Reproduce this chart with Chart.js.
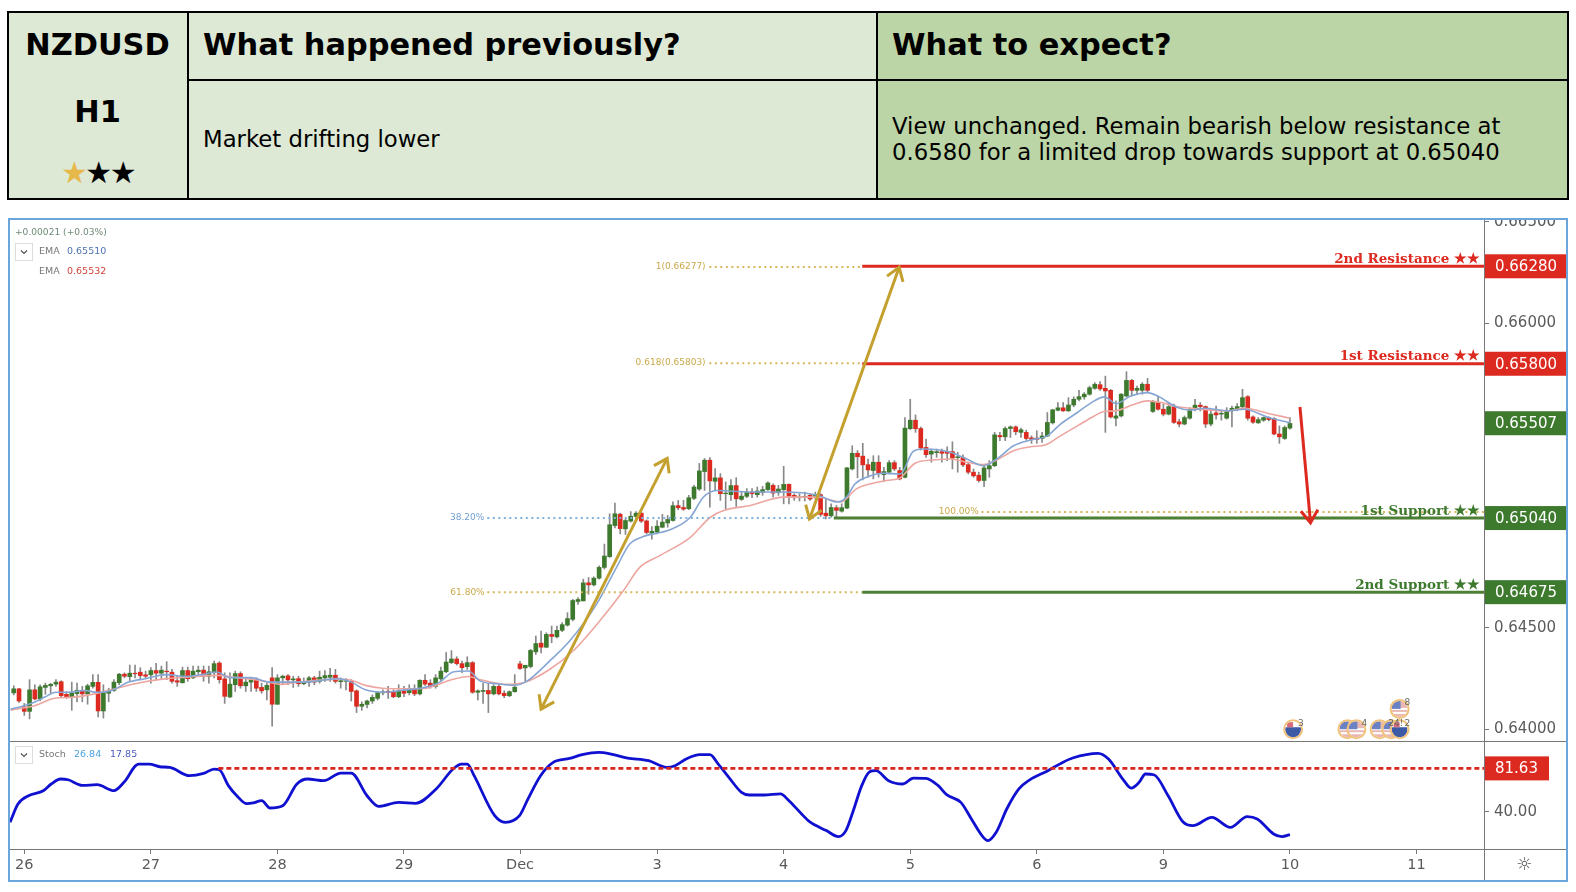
<!DOCTYPE html>
<html>
<head>
<meta charset="utf-8">
<title>NZDUSD H1</title>
<script src="https://cdn.jsdelivr.net/npm/chart.js@4/dist/chart.umd.min.js"></script>
<style>
    html, body { margin: 0; padding: 0; background: #fff; }
    body { width: 1576px; height: 892px; position: relative; overflow: hidden; font-family: "DejaVu Sans", sans-serif; color: #000; }
    .cell { position: absolute; box-sizing: border-box; }
    .txt { position: absolute; white-space: nowrap; }
    .head { font-weight: bold; font-size: 30.4px; line-height: 36px; }
    .body { font-size: 22.75px; line-height: 26px; }
    #frame { position: absolute; left: 8px; top: 218px; width: 1560px; height: 664px; box-sizing: border-box; border: 2px solid #6aa6dc; }
    #chart { position: absolute; left: 0; top: 0; }
</style>
</head>
<body>
<div class="cell" style="left:7px;top:11px;width:180px;height:189px;background:#dde8d5;border:2px solid #000;border-right:none;"></div>
<div class="cell" style="left:187px;top:11px;width:689px;height:189px;background:#dde8d5;border:2px solid #000;border-right:none;"></div>
<div class="cell" style="left:876px;top:11px;width:693px;height:189px;background:#bcd5a6;border:2px solid #000;"></div>
<div class="cell" style="left:187px;top:79px;width:1382px;height:2px;background:#000;"></div>
<div class="txt head" style="left:8px;width:179px;top:27px;text-align:center;">NZDUSD</div>
<div class="txt head" style="left:8px;width:179px;top:94px;text-align:center;">H1</div>
<div class="txt" style="left:8px;width:179px;top:155px;text-align:center;font-size:30px;line-height:36px;letter-spacing:-2.5px;"><span style="color:#e6b749;">★</span>★★</div>
<div class="txt head" style="left:203px;top:27px;">What happened previously?</div>
<div class="txt head" style="left:892px;top:27px;">What to expect?</div>
<div class="txt body" style="left:203px;top:126px;">Market drifting lower</div>
<div class="txt body" style="left:892px;top:113px;">View unchanged. Remain bearish below resistance at<br>0.6580 for a limited drop towards support at 0.65040</div>

<div id="frame"><canvas id="chart" width="1556" height="660"></canvas></div>

<script>
// prices are in points above 0.64000 (1 point = 0.00001)
const opens = [179,199,110,88,194,149,206,214,222,234,172,157,175,191,174,211,231,90,177,191,229,271,259,276,281,268,268,289,276,286,281,239,229,289,253,283,291,261,278,326,248,159,219,274,214,232,246,206,194,253,123,253,263,243,249,224,232,253,236,253,256,266,234,236,236,189,113,122,139,152,179,187,184,160,189,180,197,174,241,227,211,248,283,328,346,323,308,328,182,186,191,174,211,177,165,185,
    322,302,309,381,424,404,467,455,487,513,541,629,632,721,711,744,797,850,1003,1059,987,1025,1048,1064,1026,965,970,995,1016,1028,1101,1092,1086,1137,1183,1269,1325,1221,1238,1160,1155,1200,1132,1147,1168,1155,1167,1180,1201,1165,1180,1206,1152,1140,1144,1152,1148,1155,1064,1051,1091,1074,
    1089,1282,1359,1345,1303,1274,1315,1254,1266,1313,1274,1241,1480,1522,1481,1388,1355,1362,1367,1369,1367,1338,1339,1303,1266,1251,1225,1282,1298,1447,1440,1481,1489,1462,1462,1435,1434,1432,1444,1509,1571,1583,1568,1597,1625,1637,1650,1679,1697,1679,1669,1532,1543,1641,1718,1669,1669,1699,1565,1609,1576,1552,1589,1514,1503,1532,1574,1596,1589,1503,1558,1552,1532,1568,1579,1588,1638,1538,1509,1522,1534,1530,1454,1432,1483];
const highs = [214,202,127,244,219,219,227,226,244,239,185,232,227,211,222,269,269,219,202,244,275,278,316,316,303,286,303,325,311,333,295,261,306,306,311,311,311,311,336,333,278,278,286,283,253,253,253,227,227,303,269,266,269,261,261,253,261,261,286,289,300,295,253,249,244,194,135,144,169,186,194,211,194,219,211,219,219,244,269,244,269,306,378,387,357,336,357,333,194,227,227,219,222,189,189,269,
    335,315,393,459,483,475,508,508,525,574,640,648,739,747,751,805,912,1061,1114,1064,1036,1072,1072,1069,1031,998,1028,1058,1053,1120,1127,1127,1152,1201,1309,1333,1338,1284,1259,1218,1229,1239,1168,1185,1185,1193,1196,1218,1209,1201,1295,1209,1160,1160,1168,1160,1168,1160,1135,1110,1102,1110,
    1290,1396,1372,1408,1331,1347,1347,1290,1323,1323,1290,1535,1625,1548,1489,1429,1380,1380,1380,1391,1416,1364,1352,1315,1282,1266,1298,1323,1462,1462,1489,1494,1494,1483,1473,1445,1470,1462,1560,1576,1609,1609,1633,1637,1669,1658,1690,1707,1712,1739,1674,1617,1653,1761,1723,1690,1707,1728,1620,1641,1601,1604,1601,1527,1543,1584,1625,1609,1592,1568,1592,1571,1584,1592,1604,1674,1643,1543,1535,1538,1538,1535,1494,1494,1535];
const lows = [169,132,68,51,144,139,172,177,211,160,152,93,135,135,123,202,60,55,135,186,219,253,236,253,244,249,227,244,244,244,227,211,227,236,249,269,236,227,253,227,127,155,186,202,186,186,186,177,144,15,122,219,219,206,211,219,211,219,227,236,236,227,202,194,139,82,93,105,127,144,169,152,155,155,160,169,165,169,216,202,202,239,278,323,316,278,295,177,144,127,82,169,169,155,160,182,
    294,236,302,368,376,401,426,450,480,508,533,615,632,665,706,739,789,846,992,962,959,1020,1036,1018,962,936,962,992,995,1025,1081,1078,1081,1130,1176,1176,1094,1176,1127,1086,1127,1097,1127,1140,1140,1143,1152,1176,1143,1152,1110,1110,1127,1124,1124,1127,1135,1048,1036,1044,1041,1069,
    1086,1277,1238,1228,1241,1233,1241,1221,1257,1274,1228,1238,1476,1462,1375,1339,1315,1339,1315,1323,1282,1266,1293,1257,1241,1217,1195,1241,1293,1421,1421,1437,1450,1437,1424,1408,1408,1413,1440,1503,1568,1565,1565,1588,1617,1625,1645,1674,1669,1462,1532,1494,1538,1637,1641,1650,1650,1658,1560,1571,1543,1548,1506,1489,1499,1527,1568,1568,1486,1494,1527,1522,1527,1489,1568,1584,1522,1506,1506,1516,1519,1450,1408,1427,1478];
const closes = [199,139,88,194,149,209,216,221,232,165,159,179,192,174,214,231,90,180,192,232,271,261,276,273,264,261,289,276,291,283,236,232,289,249,286,291,261,283,323,244,162,222,274,214,232,244,202,189,216,123,253,261,243,248,224,232,253,232,256,264,266,236,239,239,186,113,123,139,157,180,184,180,160,189,177,197,174,241,222,211,253,286,331,346,323,303,328,182,189,191,174,211,174,165,185,207,
    299,315,388,422,404,467,457,487,515,545,634,639,721,711,744,797,853,1007,1061,988,1028,1049,1064,1025,969,975,1000,1020,1033,1101,1091,1084,1140,1193,1272,1325,1223,1238,1160,1163,1200,1135,1148,1168,1160,1173,1180,1213,1163,1183,1206,1148,1140,1144,1147,1134,1155,1058,1051,1092,1078,1091,
    1287,1359,1342,1302,1277,1315,1261,1269,1313,1282,1233,1483,1522,1480,1385,1352,1369,1367,1359,1359,1336,1342,1302,1266,1248,1225,1287,1298,1450,1440,1481,1489,1465,1475,1432,1427,1427,1444,1511,1573,1583,1568,1597,1625,1638,1650,1682,1699,1676,1666,1538,1543,1650,1718,1669,1679,1699,1669,1614,1576,1552,1589,1511,1503,1535,1574,1596,1589,1503,1552,1548,1556,1568,1581,1589,1633,1532,1512,1525,1535,1525,1454,1440,1486,1506];
const firstBar = -2; // first candle sits two bars left of the "26" tick

// sampled EMA lines (bar index, points)
const emaFastX = [-2.6,-0.7,1.9,3.8,6,8.3,11.5,13.7,16.6,19.8,23,26.9,30.7,33.9,36.5,39,42.9,46.7,49.9,53,59.5,62,64.7,67.9,72.4,75.6,78.8,81.3,84.2,86.5,89.7,92.9,95.1,99.6,103.4,108.5,112.3,114.8,117.4,122.4,126.3,128.8,131.3,137.7,144,150.4,154.2,155.9,157.5,159.7,162.9,166.1,168.6,170.6,175.6,178.7,181.9,184.4,187.6,190.8,194,196.5,199.7,202.9,204.8,207,209.8,213,214.9,218.7,221,223.8,228.3,231.4,235.9,240];
const emaFastY = [99,111,133,157,182,182,191,182,191,232,249,269,260,270,282,254,254,232,232,232,249,232,194,182,194,204,232,282,287,237,224,216,233,335,434,615,797,912,949,982,1044,1144,1176,1168,1168,1152,1119,1143,1208,1241,1261,1257,1369,1380,1364,1331,1298,1331,1396,1424,1445,1503,1560,1617,1637,1604,1641,1658,1641,1584,1571,1581,1568,1576,1535,1510];
const emaSlowX = [-2.6,1.9,6,8.9,13.4,17.2,21,26.9,31.3,36.5,40.3,45.4,48.6,51.9,59.5,62,64.7,67.9,72.4,76.2,80.7,84.2,86.5,91.6,95.1,99.6,104,109.1,113.6,116.7,120.5,126.3,130.1,132.6,137.7,144,150.4,154.8,157.8,160.3,163.5,166.1,168.9,172.4,175.6,178.7,181.9,184.4,187.6,190.8,193.7,196.5,199.7,202.9,204.8,207,210.5,213,215.6,218.7,223.2,228.3,231.4,235.9,240];
const emaSlowY = [94,116,154,157,174,199,224,249,257,265,254,237,221,232,246,241,216,202,199,202,241,260,244,221,233,294,384,533,682,797,855,945,1044,1077,1102,1143,1143,1119,1184,1208,1225,1238,1310,1326,1331,1315,1303,1326,1372,1391,1401,1445,1494,1543,1565,1568,1601,1617,1609,1588,1576,1568,1581,1555,1532];

// sampled stochastic line
const stochX = [-2.7,-1.2,0.8,3.6,5.1,6.9,8.3,11,13.8,17,18.9,21.7,23.7,25.7,27.6,31.3,34,36,37,38.7,40.3,42.2,43.4,45,46.6,49,51.7,53.7,56.8,60,62,65,67.2,71,74.2,78.1,81.3,82.9,84,85.3,89.2,91.2,93.9,95.5,97.9,100.3,103.4,105.8,108.9,111.3,114.4,118.4,121.8,123.4,125.7,128.1,130,131.6,133.6,136,137.5,140.3,143.4,145,147.4,148.9,152.1,154.4,155.8,157.2,158.8,160.3,161.5,163.9,166.6,168.6,171,173.3,174.9,177.6,179.6,181.6,182.7,184.3,186.3,188.6,190.6,194.1,196.9,198.8,203.6,205.6,208.3,209.9,211.4,212.6,214.2,216.9,219.7,221.6,225.2,228.7,231.9,233.8,236.9,238.5,240];
const stochY = [29.7,47.3,55.3,60.1,66.6,71.4,70.7,65.3,65.9,60.2,68.2,85.8,85.8,83.2,82.6,74.6,76.8,81,80.3,65,55.3,47.6,48.3,50.5,43.5,45.7,66.6,71.4,69.8,77.1,77.1,55.3,45.1,48.9,48,61.8,81,85.8,85.8,74.6,36.1,29.7,36.1,52.1,74.6,87.4,91.2,94.8,97,95.4,91.6,89,82.6,84.2,91.2,94.8,94.8,85.8,73,58.6,56,56,57,50.5,37.7,30.3,21.7,15.9,21.7,40.9,65,78.4,79.4,69.8,66.6,72.3,72,65,56.3,48.9,32.9,16.9,12.1,20.1,42.5,61.8,70.4,79.4,87.4,91.6,96,90.6,71.4,62.7,68.2,76.2,75.5,55.3,30.3,26.5,34.5,24.9,35.2,32.9,18.5,15.9,17.85];
const stochLevel = 81.63;
const stochLevelFrom = 36.8;

// horizontal levels
const resistance2 = 2280, resistance1 = 1800, support1 = 1040, support2 = 675, lastPrice = 1507;
const resistanceFrom = 158.9, support1From = 153.5, axisEnd = 276.8;
const fibGold = [[2277, 129.9, 158.9], [1803, 129.9, 158.9], [675, 87.8, 158.9], [1070, 181.5, axisEnd]];
const fibBlue = [1040, 87.8, 153.5];
const fibLabels = [['1(0.66277)', 129.2, 2277], ['0.618(0.65803)', 129.2, 1803], ['61.80%', 87.3, 675], ['100.00%', 181, 1070]];

// drawn arrows: x1, y1, x2, y2
const goldArrows = [[98, 99, 121.9, 1334], [148.9, 1035, 165.9, 2275]];
const redArrow = [241.9, 1587, 243.9, 1017];

// economic event markers: bar index, points, flag, count
const eventMarks = [[240.6, 0, 'nz', '3'], [250.9, 0, 'us', ''], [252.6, 0, 'us', '4'], [257, 0, 'us', ''], [259.2, 0, 'us', '24!'], [260.8, 0, 'nz', '2'], [260.8, 100, 'us', '8']];

// axes
const tickBars = [0, 24, 48, 72, 94, 120, 144, 168, 192, 216, 240, 264];
const tickLabels = ['26', '27', '28', '29', 'Dec', '3', '4', '5', '6', '9', '10', '11'];
const priceTicks = [0, 500, 1000, 1500, 2000, 2500];
const stochTicks = [40];

const GREEN = '#3e7a2e', RED = '#dc2a20', GOLD = '#c4a02e', AXIS_TXT = '#5a5a5a';
const SANS = '"DejaVu Sans", sans-serif', SERIF = '"DejaVu Serif", serif';

const barX = opens.map(function (_, k) { return k + firstBar; });
const up = opens.map(function (o, k) { return closes[k] >= o; });

function seg(y, from, to) { return [{ x: from, y: y }, { x: to, y: y }]; }
function pairs(xs, ys) { return xs.map(function (x, k) { return { x: x, y: ys[k] }; }); }
function levelLine(y, from, color) {
    return { type: 'line', data: seg(y, from, axisEnd), yAxisID: 'y', borderColor: color, borderWidth: 3, pointRadius: 0, order: 1 };
}
function dotLine(y, from, to, color) {
    return { type: 'line', data: seg(y, from, to), yAxisID: 'y', borderColor: color, borderWidth: 2, borderDash: [2, 3.5], pointRadius: 0, order: 2 };
}
// no room reserved for half a tick label, the panes fill the canvas
function noPad(s) { s.paddingTop = 0; s.paddingBottom = 0; s.paddingLeft = 0; s.paddingRight = 0; }

const overlayPlugin = {
    id: 'overlay',
    afterDatasetsDraw: function (chart) {
        const c = chart.ctx, xs = chart.scales.x, ys = chart.scales.y, st = chart.scales.stoch;
        const area = chart.chartArea;
        const px = function (v) { return xs.getPixelForValue(v); };
        const py = function (v) { return ys.getPixelForValue(v); };
        c.save();

        // arrows
        function arrow(a, color, both) {
            const x1 = px(a[0]), y1 = py(a[1]), x2 = px(a[2]), y2 = py(a[3]);
            c.strokeStyle = color; c.lineWidth = 3; c.lineJoin = 'miter';
            c.beginPath(); c.moveTo(x1, y1); c.lineTo(x2, y2); c.stroke();
            function head(fx, fy, tx, ty) {
                const ang = Math.atan2(ty - fy, tx - fx), len = 15;
                c.beginPath();
                c.moveTo(tx - len * Math.cos(ang - 0.6), ty - len * Math.sin(ang - 0.6));
                c.lineTo(tx, ty);
                c.lineTo(tx - len * Math.cos(ang + 0.6), ty - len * Math.sin(ang + 0.6));
                c.stroke();
            }
            head(x1, y1, x2, y2);
            if (both) head(x2, y2, x1, y1);
        }
        goldArrows.forEach(function (a) { arrow(a, GOLD, true); });
        arrow(redArrow, RED, false);

        // fib labels
        c.textBaseline = 'middle';
        c.textAlign = 'right';
        c.fillStyle = '#c9a94a';
        c.font = '9px ' + SANS;
        fibLabels.forEach(function (l) { c.fillText(l[0], px(l[1]), py(l[2])); });
        c.fillStyle = '#6f9fd0';
        c.fillText('38.20%', px(fibBlue[1]) - 3, py(fibBlue[0]));

        // level names
        c.font = 'bold 13.5px ' + SERIF;
        c.fillStyle = RED;
        c.fillText('2nd Resistance ★★', area.right - 4, py(resistance2) - 7);
        c.fillText('1st Resistance ★★', area.right - 4, py(resistance1) - 7);
        c.fillStyle = GREEN;
        c.fillText('1st Support ★★', area.right - 4, py(support1) - 7);
        c.fillText('2nd Support ★★', area.right - 4, py(support2) - 7);

        // event markers, counts go on last so the icons do not hide them
        eventMarks.forEach(function (m) {
            const x = px(m[0]), y = py(m[1]), r = 8;
            c.save();
            c.beginPath(); c.arc(x, y, r, 0, Math.PI * 2); c.closePath();
            c.fillStyle = '#fff'; c.fill();
            c.clip();
            if (m[2] === 'us') {
                c.fillStyle = '#eab8b4'; c.fillRect(x - r, y - r, 2 * r, 2 * r);
                c.fillStyle = '#fff'; c.fillRect(x - r, y - 1, 2 * r, 2); c.fillRect(x - r, y + 3, 2 * r, 2);
                c.fillStyle = '#6a82c4'; c.fillRect(x - r, y - r, r + 1, r);
            } else {
                c.fillStyle = '#3d5aa6'; c.fillRect(x - r, y - 2, 2 * r, r + 2);
                c.fillStyle = '#d96a7a'; c.fillRect(x - r + 2, y - r + 1, 6, 5);
            }
            c.restore();
            c.strokeStyle = '#f0c27a'; c.lineWidth = 2;
            c.beginPath(); c.arc(x, y, r + 1, 0, Math.PI * 2); c.stroke();
        });
        c.fillStyle = '#666'; c.font = '9px ' + SANS; c.textAlign = 'left';
        eventMarks.forEach(function (m) {
            if (m[3]) c.fillText(m[3], px(m[0]) + 5 - (m[3].length > 1 ? 8 : 0), py(m[1]) - 6);
        });

        // axis frame pieces
        c.strokeStyle = '#777';
        c.lineWidth = 1;
        c.beginPath();
        c.moveTo(area.right + 0.5, 0); c.lineTo(area.right + 0.5, chart.height);
        c.moveTo(0, ys.bottom + 0.5); c.lineTo(chart.width, ys.bottom + 0.5);
        c.moveTo(0, st.bottom + 0.5); c.lineTo(chart.width, st.bottom + 0.5);
        c.stroke();

        // price tags on the axis
        function tag(y, text, color, w) {
            c.fillStyle = color;
            c.fillRect(area.right + 1, y - 12, w, 24);
            c.fillStyle = '#fff';
            c.font = '15px ' + SANS;
            c.textAlign = 'left';
            c.fillText(text, area.right + 11, y + 1);
        }
        tag(py(resistance2), '0.66280', RED, 82);
        tag(py(resistance1), '0.65800', RED, 82);
        tag(py(lastPrice), '0.65507', GREEN, 82);
        tag(py(support1), '0.65040', GREEN, 82);
        tag(py(support2), '0.64675', GREEN, 82);
        tag(st.getPixelForValue(stochLevel), '81.63', RED, 64);

        // settings glyph
        c.fillStyle = AXIS_TXT; c.font = '18px ' + SANS; c.textAlign = 'center';
        c.fillText('☼', area.right + 40, st.bottom + 16);

        // legends
        c.textAlign = 'left';
        c.font = '9.1px ' + SANS;
        c.fillStyle = '#6f8a78'; c.fillText('+0.00021 (+0.03%)', 5, 13);
        c.font = '9.5px ' + SANS;
        function chevron(y) {
            c.strokeStyle = '#ddd'; c.lineWidth = 1;
            c.strokeRect(5.5, y - 8.5, 17, 17);
            c.strokeStyle = '#555'; c.lineWidth = 1.2;
            c.beginPath(); c.moveTo(11, y - 1.5); c.lineTo(14, y + 1.5); c.lineTo(17, y - 1.5); c.stroke();
        }
        chevron(32);
        c.fillStyle = '#777'; c.fillText('EMA', 29, 32); c.fillText('EMA', 29, 52);
        c.fillStyle = '#4d72b0'; c.fillText('0.65510', 57, 32);
        c.fillStyle = '#d0453c'; c.fillText('0.65532', 57, 52);
        const sy = st.top + 14;
        chevron(sy);
        c.fillStyle = '#777'; c.fillText('Stoch', 29, sy);
        c.fillStyle = '#4aa3df'; c.fillText('26.84', 64, sy);
        c.fillStyle = '#4d5bc0'; c.fillText('17.85', 100, sy);
        c.restore();
    }
};

const axisGrid = { display: true, drawOnChartArea: false, drawTicks: true, tickLength: 5, color: '#777', offset: false };

new Chart(document.getElementById('chart'), {
    type: 'bar',
    data: {
        datasets: [
            { type: 'line', data: pairs(stochX, stochY), yAxisID: 'stoch', borderColor: '#1010d0', borderWidth: 2.8, pointRadius: 0, cubicInterpolationMode: 'monotone', order: 1 },
            { type: 'line', data: seg(stochLevel, stochLevelFrom, axisEnd), yAxisID: 'stoch', borderColor: '#d8281e', borderWidth: 2.6, borderDash: [5, 3], pointRadius: 0, order: 0 },
            levelLine(resistance2, resistanceFrom, RED),
            levelLine(resistance1, resistanceFrom, RED),
            levelLine(support1, support1From, '#4d7f35'),
            levelLine(support2, resistanceFrom, '#4d7f35'),
            dotLine(fibGold[0][0], fibGold[0][1], fibGold[0][2], '#d6b75c'),
            dotLine(fibGold[1][0], fibGold[1][1], fibGold[1][2], '#d6b75c'),
            dotLine(fibGold[2][0], fibGold[2][1], fibGold[2][2], '#d6b75c'),
            dotLine(fibGold[3][0], fibGold[3][1], fibGold[3][2], '#d6b75c'),
            dotLine(fibBlue[0], fibBlue[1], fibBlue[2], '#7fb0dc'),
            { type: 'line', data: pairs(emaFastX, emaFastY), yAxisID: 'y', borderColor: '#85a6d4', borderWidth: 1.6, pointRadius: 0, cubicInterpolationMode: 'monotone', order: 3 },
            { type: 'line', data: pairs(emaSlowX, emaSlowY), yAxisID: 'y', borderColor: '#eda6a0', borderWidth: 1.6, pointRadius: 0, cubicInterpolationMode: 'monotone', order: 4 },
            {
                data: barX.map(function (x, k) { return { x: x, y: [opens[k], closes[k]] }; }),
                yAxisID: 'y', grouped: false, barThickness: 4, order: 5,
                backgroundColor: up.map(function (u) { return u ? GREEN : RED; })
            },
            {
                data: barX.map(function (x, k) { return { x: x, y: [lows[k], highs[k]] }; }),
                yAxisID: 'y', grouped: false, barThickness: 1, order: 6,
                backgroundColor: '#888'
            }
        ]
    },
    options: {
        responsive: false,
        animation: false,
        devicePixelRatio: 1,
        layout: { padding: 0 },
        plugins: { legend: { display: false }, tooltip: { enabled: false } },
        scales: {
            x: {
                type: 'linear', offset: false, min: -2.71, max: axisEnd,
                grid: axisGrid,
                border: { display: false },
                afterBuildTicks: function (s) { s.ticks = tickBars.map(function (v) { return { value: v }; }); },
                afterFit: function (s) { s.height = 31; noPad(s); },
                ticks: {
                    autoSkip: false, maxRotation: 0, color: AXIS_TXT, font: { family: SANS, size: 14.5 }, padding: 3,
                    callback: function (v, k) { return tickLabels[k]; }
                }
            },
            y: {
                position: 'right', stack: 'panes', stackWeight: 521, min: -58, max: 2508,
                grid: axisGrid,
                border: { display: false },
                afterBuildTicks: function (s) { s.ticks = priceTicks.map(function (v) { return { value: v }; }); },
                afterFit: function (s) { s.width = 82; noPad(s); },
                ticks: {
                    autoSkip: false, color: AXIS_TXT, font: { family: SANS, size: 15 }, padding: 5,
                    callback: function (v) { return (0.64 + v / 100000).toFixed(5); }
                }
            },
            stoch: {
                position: 'right', stack: 'panes', stackWeight: 108, min: 4, max: 108,
                grid: axisGrid,
                border: { display: false },
                afterBuildTicks: function (s) { s.ticks = stochTicks.map(function (v) { return { value: v }; }); },
                afterFit: function (s) { s.width = 82; noPad(s); },
                ticks: {
                    autoSkip: false, color: AXIS_TXT, font: { family: SANS, size: 15 }, padding: 5,
                    callback: function (v) { return v.toFixed(2); }
                }
            }
        }
    },
    plugins: [overlayPlugin]
});
</script>
</body>
</html>
